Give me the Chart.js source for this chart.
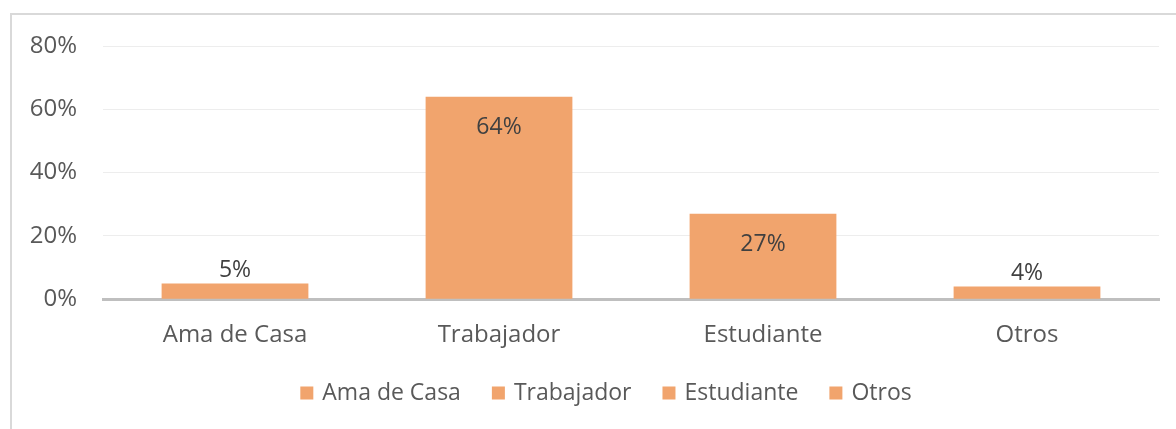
<!DOCTYPE html>
<html>
<head>
<meta charset="utf-8">
<script src="https://cdn.jsdelivr.net/npm/chart.js@4/dist/chart.umd.min.js"></script>
<style>
  html, body { margin: 0; padding: 0; background: #fff; overflow: hidden; }
  #wrap { position: relative; width: 1176px; height: 429px; }
  #frame { position: absolute; left: 10px; top: 13px; width: 1300px; height: 600px; border: 2px solid #d9d9d9; box-sizing: border-box; }
  canvas { position: absolute; left: 0; top: 0; }
</style>
</head>
<body>
<div id="wrap">
  <div id="frame"></div>
  <canvas id="c" width="1176" height="429"></canvas>
</div>
<script>
const categories = ['Ama de Casa', 'Trabajador', 'Estudiante', 'Otros'];
const values = [5, 64, 27, 4];
const yTicks = [0, 20, 40, 60, 80];

const BAR_COLOR = '#F1A46D';
const TEXT_COLOR = '#595959';
const FONT = '"Open Sans", sans-serif';

const labelPlugin = {
  id: 'barLabels',
  afterDatasetsDraw(chart) {
    const ctx = chart.ctx;
    const meta = chart.getDatasetMeta(0);
    ctx.save();
    ctx.font = '23px ' + FONT;
    ctx.fillStyle = '#404040';
    ctx.textAlign = 'center';
    ctx.textBaseline = 'middle';
    meta.data.forEach((bar, i) => {
      const h = bar.base - bar.y;
      const txt = values[i] + '%';
      const y = h > 40 ? bar.y + 31 : bar.y - 13;
      ctx.fillText(txt, bar.x, y);
    });
    ctx.restore();
  }
};

// Legend drawn on the canvas, one entry per category
const legendPlugin = {
  id: 'catLegend',
  afterDraw(chart) {
    const ctx = chart.ctx;
    const box = 13, boxGap = 9, itemGap = 31, centerX = 606, centerY = 393;
    ctx.save();
    ctx.font = '23px ' + FONT;
    const widths = categories.map(c => ctx.measureText(c).width);
    const total = widths.reduce((a, w) => a + box + boxGap + w, 0) + itemGap * (categories.length - 1);
    let x = centerX - total / 2;
    ctx.textBaseline = 'middle';
    ctx.textAlign = 'left';
    categories.forEach((c, i) => {
      ctx.fillStyle = BAR_COLOR;
      ctx.fillRect(x, centerY - box / 2, box, box);
      x += box + boxGap;
      ctx.fillStyle = TEXT_COLOR;
      ctx.fillText(c, x, centerY);
      x += widths[i] + itemGap;
    });
    ctx.restore();
  }
};

new Chart(document.getElementById('c'), {
  type: 'bar',
  data: {
    labels: categories,
    datasets: [{
      data: values,
      backgroundColor: BAR_COLOR,
      categoryPercentage: 1,
      barPercentage: 0.556
    }]
  },
  options: {
    responsive: false,
    animation: false,
    layout: { padding: { left: 30, right: 17, top: 46, bottom: 57 } },
    plugins: {
      tooltip: { enabled: false },
      legend: { display: false }
    },
    scales: {
      x: {
        grid: { display: false, drawTicks: false },
        border: { display: true, color: '#BFBFBF', width: 3 },
        ticks: { font: { family: FONT, size: 24 }, color: TEXT_COLOR, padding: 22 },
        afterFit(scale) { scale.paddingLeft = 0; scale.paddingRight = 0; }
      },
      y: {
        min: 0,
        max: 80,
        afterBuildTicks(scale) { scale.ticks = yTicks.map(v => ({ value: v })); },
        afterFit(scale) { scale.width = 73; },
        grid: { color: '#EDEDED', lineWidth: 1, drawTicks: false },
        border: { display: false },
        ticks: {
          font: { family: FONT, size: 24 },
          color: TEXT_COLOR,
          padding: 26,
          callback: (v) => v + '%'
        }
      }
    }
  },
  plugins: [labelPlugin, legendPlugin]
});
</script>
</body>
</html>
